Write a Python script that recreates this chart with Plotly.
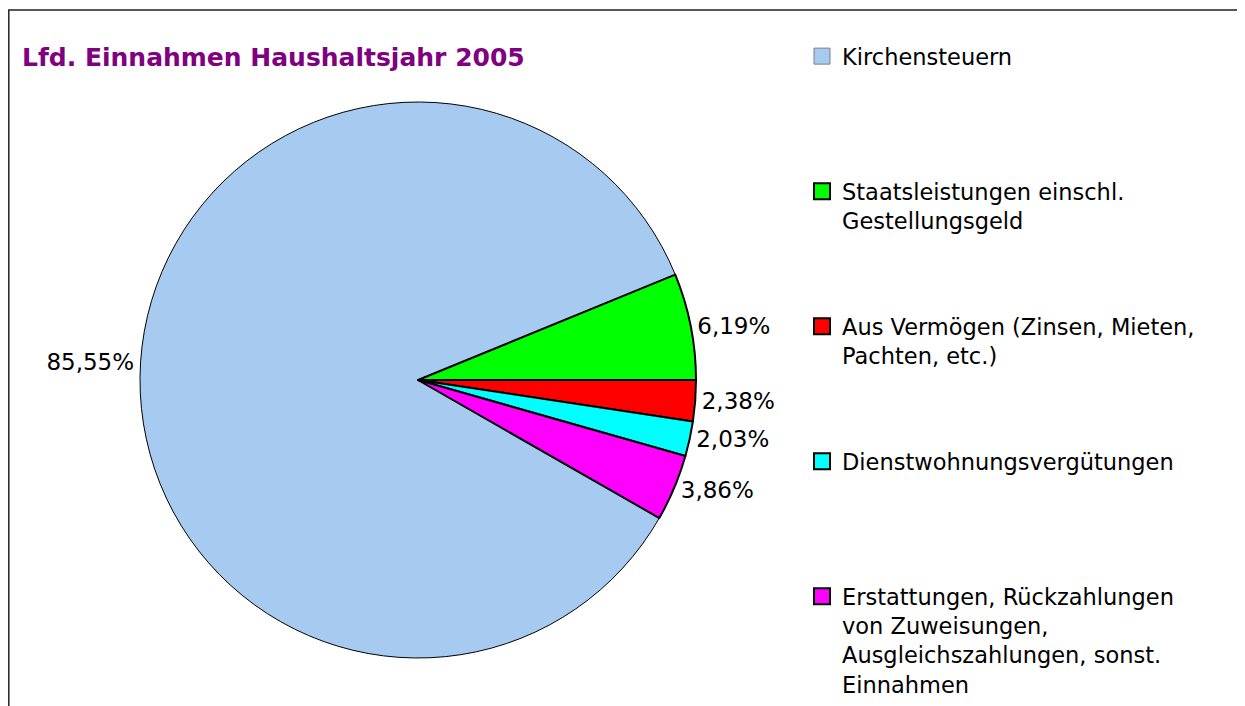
import plotly.graph_objects as go

categories = [
    "Kirchensteuern",
    "Staatsleistungen einschl.<br>Gestellungsgeld",
    "Aus Vermögen (Zinsen, Mieten,<br>Pachten, etc.)",
    "Dienstwohnungsvergütungen",
    "Erstattungen, Rückzahlungen<br>von Zuweisungen,<br>Ausgleichszahlungen, sonst.<br>Einnahmen",
]
values = [85.55, 6.19, 2.38, 2.03, 3.86]
colors = ["#A6CAF0", "#00FF00", "#FF0000", "#00FFFF", "#FF00FF"]
edge_widths = [1, 2, 2, 2, 2]
legend_edge = ["#7f7f7f", "#000000", "#000000", "#000000", "#000000"]

total = sum(values)
rotation = 90 + 360 * sum(values[2:]) / total

FONT = "DejaVu Sans, Verdana, sans-serif"
W, H = 1237, 698  # page body has an 8px margin

fig = go.Figure()
fig.add_trace(go.Pie(
    labels=categories,
    values=values,
    sort=False,
    direction="clockwise",
    rotation=rotation,
    marker=dict(colors=colors, line=dict(color="#000000", width=edge_widths)),
    textposition="outside",
    texttemplate="%{value:.2f}%",
    textfont=dict(family=FONT, size=23, color="#000000"),
    showlegend=False,
    domain=dict(x=[132 / W, 688 / W], y=[48 / H, 604 / H]),
))

# legend entries (one per category, padded to equal line count)
for i, (name, col) in enumerate(zip(categories, colors)):
    lines = name.count("<br>") + 1
    label = name + ("<br> " if lines < 2 else "")
    fig.add_trace(go.Scatter(
        x=[None], y=[None], mode="markers", name=label,
        legendgroup=f"g{i}",
        marker=dict(symbol="square", size=16, color=col,
                    line=dict(color=legend_edge[i], width=2 if i else 1)),
        hoverinfo="skip",
    ))

x_left = 0.8 / W
y_top = 1 - 2 / H
fig.update_layout(
    width=W, height=H,
    margin=dict(l=0, r=0, t=0, b=0),
    paper_bgcolor="white", plot_bgcolor="white",
    separators=",.",
    font=dict(family=FONT, color="#000000"),
    title=dict(text="<b>Lfd. Einnahmen Haushaltsjahr 2005</b>",
               x=14 / W, xanchor="left", y=1 - 49 / H, yanchor="middle",
               font=dict(family=FONT, size=25, color="#800080")),
    xaxis=dict(visible=False), yaxis=dict(visible=False),
    legend=dict(x=794 / W, xanchor="left", y=1 - 27 / H, yanchor="top",
                font=dict(family=FONT, size=22.5, color="#000000"),
                valign="top", tracegroupgap=73.5, itemwidth=30,
                bgcolor="rgba(0,0,0,0)"),
    shapes=[dict(type="path", xref="paper", yref="paper",
                 path=f"M {x_left},0 L {x_left},{y_top} L 1,{y_top}",
                 line=dict(color="#222222", width=1.5))],
)

fig.write_html("out.html")
